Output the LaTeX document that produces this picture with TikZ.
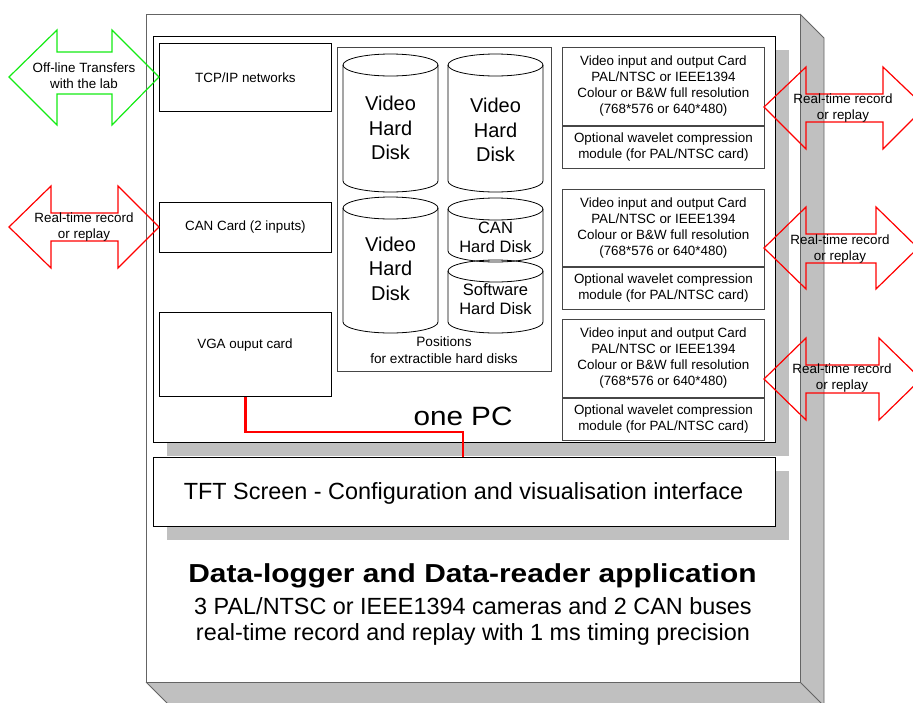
\documentclass[tikz,border=0pt]{standalone}
\usepackage{fontspec}
\setmainfont{Liberation Sans}
\usepackage{graphicx}
\definecolor{sidegray}{RGB}{192,192,192}
\definecolor{edge}{RGB}{100,100,100}
\definecolor{cardedge}{RGB}{70,70,70}
\definecolor{lime}{RGB}{20,235,20}
\definecolor{hot}{RGB}{255,0,0}
\newcommand\fsmall{\fontsize{13.4}{16}\selectfont}
\newcommand\fdisk{\fontsize{20}{24.5}\selectfont}
\newcommand\fdiskb{\fontsize{16.5}{19}\selectfont}
\newcommand\fmid{\fontsize{23.4}{26}\selectfont}
% cylinder: left x, right x, top y, bottom y
\newcommand\cyl[4]{%
  \draw[disk] (#1,#3+11) -- (#1,#4-11)
    arc[start angle=180, end angle=360, x radius={(#2-#1)/2}, y radius=-11]
    -- (#2,#3+11);
  \draw[disk] ({(#1+#2)/2},#3+11) ellipse[x radius={(#2-#1)/2}, y radius=11];
}

\begin{document}
\begin{tikzpicture}[x=1pt,y=-1pt,
  box/.style={draw=#1, line width=0.8pt, fill=white, anchor=north west,
    inner sep=0pt, align=center, font=\fsmall},
  box/.default=black,
  txt/.style={inner sep=0pt, align=center, font=\fsmall},
  dtxt/.style={inner sep=0pt, align=center, font=\fdisk},
  d2txt/.style={inner sep=0pt, align=center, font=\fdiskb},
  dropshadow/.style={fill=sidegray},
  disk/.style={draw=black, line width=0.8pt},
  blockarrow/.style={draw=#1, line width=1.2pt, line join=miter},
  link/.style={draw=hot, line width=2.6pt}]

\useasboundingbox (0,0) rectangle (913,702);
\begin{scope}
\clip (0,0) rectangle (913,702);

% 3D cabinet: side and bottom faces
\fill[sidegray] (800,14) -- (824,38) -- (824,706) -- (800,682) -- cycle;
\fill[sidegray] (146,682) -- (800,682) -- (824,706) -- (170,706) -- cycle;
\draw[edge, line width=0.8pt] (800,14) -- (824,38) -- (824,706);
\draw[edge, line width=0.8pt] (800,682) -- (824,706);
\draw[edge, line width=0.8pt] (146,682) -- (170,706);
\node[box=edge, minimum width=654pt, minimum height=668pt] (frame) at (146,14) {};

% PC enclosure with its drop shadow
\path[dropshadow] (167,50) rectangle (789,456);
\node[box, minimum width=622pt, minimum height=406pt] (pc) at (153,36) {};

% left column cards
\node[box, minimum width=172pt, minimum height=68pt] (tcp) at (159,43) {TCP/IP networks};
\node[box, minimum width=172pt, minimum height=50pt] (can) at (159,202) {CAN Card (2 inputs)};
\node[box, minimum width=172pt, minimum height=84pt] (vga) at (159,312) {};
\node[txt] (vgatext) at (245,345) {VGA ouput card};

% removable disk bay
\node[box=cardedge, minimum width=214pt, minimum height=324pt] (bay) at (337,47) {};

% cylinders
\cyl{343}{438}{54}{192}
\cyl{448}{543}{54}{192}
\cyl{343}{438}{197}{333}
\cyl{448}{543}{198}{262}
\cyl{448}{543}{260}{333}
\node[dtxt] (hd1) at (390.5,128) {Video\\Hard\\Disk};
\node[dtxt] (hd2) at (495.5,130) {Video\\Hard\\Disk};
\node[dtxt] (hd3) at (390.5,268.5) {Video\\Hard\\Disk};
\node[d2txt] (hdcan) at (495.5,237) {CAN\\Hard Disk};
\node[d2txt] (hdsw) at (495.5,299) {Software\\Hard Disk};
\node[txt, font=\fontsize{13.6}{16.8}\selectfont] (baytext) at (444,350) {Positions\\for extractible hard disks};

% video cards
\foreach \n/\t/\h in {1/47/78, 2/189/77, 3/319/78}{
  \node[box=cardedge, minimum width=202pt, minimum height=\h pt] (video\n) at (562,\t)
    {Video input and output Card\\PAL/NTSC or IEEE1394\\Colour or B\&W full resolution\\(768*576 or 640*480)};
  \node[box=cardedge, minimum width=202pt, minimum height=42pt] (wavelet\n) at (video\n.south west)
    {Optional wavelet compression\\module (for PAL/NTSC card)};
}

\node[inner sep=0pt, anchor=base] (pclabel) at (463,425)
  {\scalebox{1.12}[1]{\fontsize{26.5}{30}\selectfont one PC}};

% TFT screen with its drop shadow
\path[dropshadow] (167,471) rectangle (789,540);
\node[box, minimum width=622pt, minimum height=69pt] (tft) at (153,457) {};
\node[inner sep=0pt, anchor=base, font=\fmid] (tfttext) at (463.5,499)
  {TFT Screen - Configuration and visualisation interface};

% application summary
\node[inner sep=0pt, anchor=base] (title) at (472.5,582)
  {\scalebox{1.15}[1]{\fontsize{26}{30}\selectfont\bfseries Data-logger and Data-reader application}};
\node[inner sep=0pt, anchor=base, font=\fmid] (sub1) at (473,614)
  {3 PAL/NTSC or IEEE1394 cameras and 2 CAN buses};
\node[inner sep=0pt, anchor=base, font=\fmid] (sub2) at (473,640)
  {real-time record and replay with 1 ms timing precision};

% VGA output to screen
\coordinate (bend) at (463,432);
\draw[link] (vga.south) |- (bend) -- (bend |- tft.north);

% transfer arrows
\draw[blockarrow=lime] (9,77) -- (57,30) -- (57,52) -- (112,52) -- (112,30) -- (159,77)
  -- (112,125) -- (112,94) -- (57,94) -- (57,125) -- cycle;
\node[txt] (offline) at (84,76) {Off-line Transfers\\with the lab};

\draw[blockarrow=hot] (9,227) -- (51,186) -- (51,213) -- (118,213) -- (118,186) -- (159,227)
  -- (118,268) -- (118,241) -- (51,241) -- (51,268) -- cycle;
\node[txt] (canrt) at (84,227) {Real-time record\\or replay};

\draw[blockarrow=hot] (764,107) -- (806,67) -- (806,94) -- (883,94) -- (883,67) -- (925,107)
  -- (883,149) -- (883,122) -- (806,122) -- (806,149) -- cycle;
\node[txt] (rt1) at (843,108) {Real-time record\\or replay};

\draw[blockarrow=hot] (764,248) -- (806,207) -- (806,234) -- (876,234) -- (876,207) -- (918,248)
  -- (876,289) -- (876,263) -- (806,263) -- (806,289) -- cycle;
\node[txt] (rt2) at (840,249) {Real-time record\\or replay};

\draw[blockarrow=hot] (764,379) -- (806,338) -- (806,365) -- (879,365) -- (879,338) -- (921,379)
  -- (879,420) -- (879,393) -- (806,393) -- (806,420) -- cycle;
\node[txt] (rt3) at (842,378) {Real-time record\\or replay};

\end{scope}
\end{tikzpicture}
\end{document}
